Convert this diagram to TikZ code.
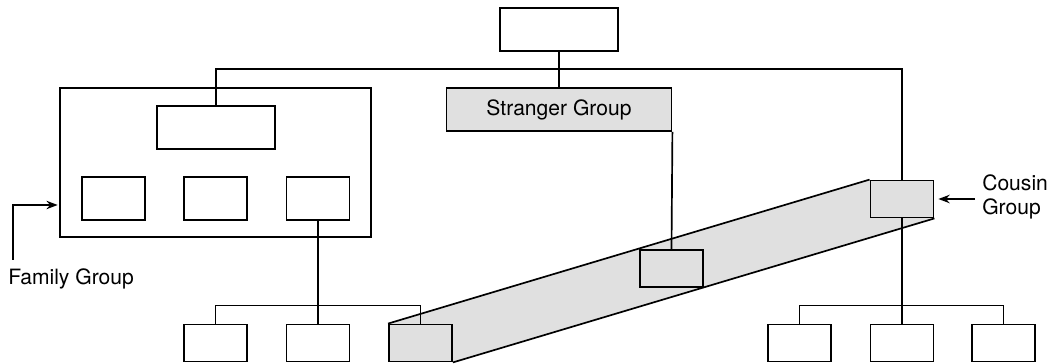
\documentclass[tikz,border=0pt]{standalone}
\usepackage{fontspec}
\setmainfont{TeX Gyre Heros}
\usepackage{tikz}
\usetikzlibrary{arrows.meta, positioning, calc, backgrounds}
\tikzset{
    box/.style={rectangle, draw, line width=1.3pt, minimum width=1.575cm, minimum height=0.925cm, inner sep=0pt, fill=white},
    famsub/.style={box, minimum height=1.075cm},
    wide/.style={box, minimum width=2.95cm, minimum height=1.075cm},
    shaded/.style={box, fill=black!12},
    link/.style={line width=1.2pt},
    arrow/.style={->, >={Stealth[length=8pt, width=6pt]}, line width=1.2pt},
    lbl/.style={inner sep=0pt, align=left}
}

\begin{document}
\begin{tikzpicture}[font=\fontsize{15}{17}\selectfont]
    \useasboundingbox (0,0) rectangle (26.325,-9.1);

    % Top of the tree
    \node[wide] (top) at (13.975,-0.7375) {};
    \node[wide, minimum width=5.625cm, fill=black!12] (stranger) at (13.975,-2.7375) {Stranger Group};

    % Family group
    \node[box, minimum width=7.775cm, minimum height=3.725cm] (family) at (5.3875,-4.0625) {};
    \node[wide] (famtop) at (5.4,-3.1875) {};
    \node[famsub] (fam1) at (2.8375,-4.9625) {};
    \node[famsub] (fam2) at (5.3875,-4.9625) {};
    \node[famsub] (fam3) at (7.95,-4.9625) {};

    % Bottom rows
    \foreach \x/\n in {5.3875/bl1, 7.95/bl2, 19.9875/br1, 22.55/br2, 25.0875/br3}
        \node[box] (\n) at (\x,-8.575) {};
    \node[shaded] (bl3) at (10.5125,-8.575) {};
    \node[shaded] (mid) at (16.7875,-6.7125) {};
    \node[shaded] (cousin) at (22.55,-4.975) {};

    % Cousin band
    \begin{scope}[on background layer]
        \fill[black!12] (bl3.north west) -- (cousin.north west) -- (cousin.south east) -- (bl3.south east) -- cycle;
        \draw[link] (bl3.north west) -- (cousin.north west);
        \draw[link] (bl3.south east) -- (cousin.south east);
    \end{scope}

    % Links
    \draw[link] (top.south) -- (stranger.north);
    \draw[link] (famtop.north) -- ++(0,0.9) -| (cousin.north);
    \draw[link] (stranger.south east) -- (mid.north);
    \draw[link] (cousin.south) -- (br2.north);
    \draw[link] (br1.north) -- ++(0,0.45) -| (br3.north);
    \draw[link] (fam3.south) -- (bl2.north);
    \draw[link] (bl1.north) -- ++(0,0.45) -| (bl3.north);

    % Labels
    \node[lbl, anchor=base west] (famlbl) at (0.2,-7.1) {Family Group};
    \coordinate (faminlet) at (family.west |- 0,-5.125);
    \draw[arrow, shorten >=1pt] ([xshift=0.12cm, yshift=0.2cm]famlbl.north west) |- (faminlet);
    \node[lbl, anchor=west] (cslbl) at (24.55,-4.925) {Cousin\\Group};
    \coordinate (csin) at (cslbl.west |- cousin.east);
    \draw[arrow, shorten >=0.1cm] ([xshift=-0.175cm]csin) -- (cousin.east);
\end{tikzpicture}
\end{document}
